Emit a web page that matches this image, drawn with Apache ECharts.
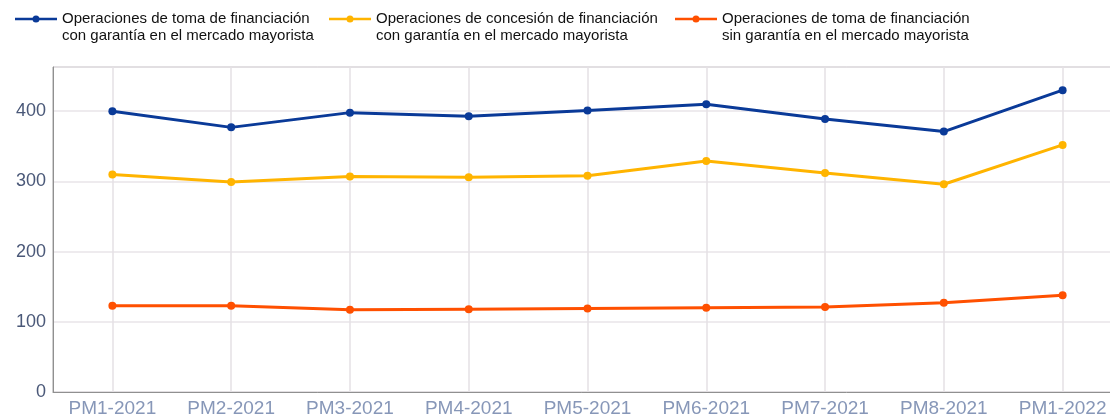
<!DOCTYPE html>
<html><head><meta charset="utf-8">
<script src="https://cdn.jsdelivr.net/npm/echarts@6/dist/echarts.min.js"></script>
<style>html,body{margin:0;padding:0;background:#fff}#c{width:1110px;height:419px}</style>
</head><body><div id="c"></div>
<script>
const categories = ['PM1-2021','PM2-2021','PM3-2021','PM4-2021','PM5-2021','PM6-2021','PM7-2021','PM8-2021','PM1-2022'];
const seriesNames = ['Operaciones de toma de financiación\ncon garantía en el mercado mayorista','Operaciones de concesión de financiación\ncon garantía en el mercado mayorista','Operaciones de toma de financiación\nsin garantía en el mercado mayorista'];
const tomaConGarantia = [400, 377, 398, 393, 401, 410, 389, 371, 430];
const concesionConGarantia = [310, 299, 307, 306, 308, 329, 312, 296, 352];
const tomaSinGarantia = [123, 123, 117, 118, 119, 120, 121, 127, 138];
const yTicks = [0, 100, 200, 300, 400];
const colors = ['#0a3a98', '#ffb400', '#ff5000'];
const legendLefts = [15, 329, 675];
// legend icon: line + dot aligned with the first text line (bbox 42x34)
const legendIcon = 'path://M0,0h0.05v0.05h-0.05Z M0,7.7H42V10.3H0Z M17.5,9a3.5,3.5 0 1,1 7,0a3.5,3.5 0 1,1 -7,0Z M0,33.95h0.05v0.05h-0.05Z';

const chart = echarts.init(document.getElementById('c'));
const mk = (name, data, color) => ({
  name, type: 'line', data, symbol: 'circle', symbolSize: 8,
  lineStyle: {width: 3, color}, itemStyle: {color}, emphasis: {disabled: true}
});
chart.setOption({
  animation: false,
  textStyle: {fontFamily: 'Liberation Sans, Arial, sans-serif'},
  legend: seriesNames.map((n, i) => ({
    left: legendLefts[i], top: 10, itemWidth: 42, itemHeight: 34, padding: 0,
    icon: legendIcon,
    itemStyle: {color: colors[i], borderWidth: 0},
    textStyle: {fontSize: 15, color: '#111', lineHeight: 17, fontFamily: 'Liberation Sans'},
    data: [n]
  })),
  grid: {left: 53, top: 67, width: 1069, height: 325, outerBoundsMode: 'none', show: true, borderColor: '#a0a0a0', borderWidth: 1, containLabel: false},
  xAxis: {
    type: 'category', data: categories, boundaryGap: true,
    axisLine: {lineStyle: {color: '#909090', width: 1}},
    axisTick: {show: false},
    axisLabel: {color: '#8797b8', fontSize: 19, margin: 7, fontFamily: 'Liberation Sans'},
    splitLine: {show: true, alignWithLabel: true, lineStyle: {color: '#e4e0e4', width: 1.5}}
  },
  yAxis: {
    type: 'value', min: 0, max: 463, interval: 100,
    axisLine: {show: true, lineStyle: {color: '#909090', width: 1}},
    axisTick: {show: false},
    axisLabel: {color: '#4a5878', fontSize: 18, margin: 7, fontFamily: 'Liberation Sans',
      formatter: v => yTicks.includes(v) ? String(v) : ''},
    splitLine: {lineStyle: {color: '#e8e4e8', width: 1.5}}
  },
  series: [
    mk(seriesNames[0], tomaConGarantia, colors[0]),
    mk(seriesNames[1], concesionConGarantia, colors[1]),
    mk(seriesNames[2], tomaSinGarantia, colors[2])
  ]
});
</script></body></html>
